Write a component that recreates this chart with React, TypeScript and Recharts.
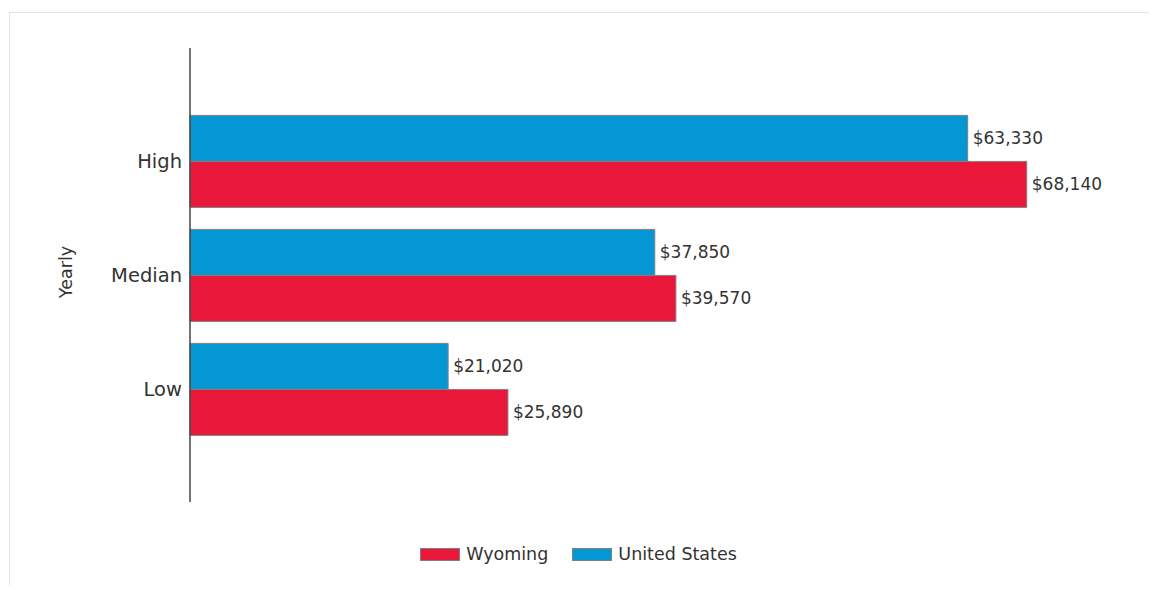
import React from "react";
import { BarChart, Bar, XAxis, YAxis, Legend, LabelList } from "recharts";

const categories = ["High", "Median", "Low"];
const unitedStates = [63330, 37850, 21020];
const wyoming = [68140, 39570, 25890];
const legendItems = [
  { name: "Wyoming", color: "#e9173a" },
  { name: "United States", color: "#0596d4" },
];

const data = categories.map((c, i) => ({ name: c, us: unitedStates[i], wy: wyoming[i] }));

const FONT = "'DejaVu Sans', Verdana, sans-serif";

const money = (v: any) => "$" + Number(v).toLocaleString("en-US");

function YearlyLabel({ viewBox }: any) {
  const x = viewBox.x - 44;
  const y = viewBox.y + viewBox.height / 2 - 3;
  return (
    <text x={x} y={y} transform={`rotate(-90, ${x}, ${y})`} textAnchor="middle"
      dominantBaseline="central" fontSize={17.5} fill="#333" fontFamily={FONT}>
      Yearly
    </text>
  );
}

function LegendContent() {
  return (
    <div style={{ display: "flex", justifyContent: "center", alignItems: "center", fontFamily: FONT, fontSize: 17.5, color: "#333" }}>
      {legendItems.map((it) => (
        <div key={it.name} style={{ display: "flex", alignItems: "center", margin: "0 12px" }}>
          <span style={{ width: 38, height: 11, background: it.color, border: "1px solid #808080", marginRight: 6, display: "inline-block" }} />
          <span>{it.name}</span>
        </div>
      ))}
    </div>
  );
}

export default function App() {
  return (
    <div style={{ margin: -8, width: 1157, height: 593, position: "relative", background: "#fff", overflow: "hidden" }}>
      <div style={{ position: "absolute", left: 0, top: 0, width: 1157, height: 4, background: "#f3f3f3" }} />
      <div style={{ position: "absolute", left: 9, top: 12, width: 1200, height: 640, border: "1px solid #dbe4ec" }} />
      <div style={{ position: "absolute", left: 0, top: 0 }}>
        <BarChart
          width={1157}
          height={593}
          data={data}
          layout="vertical"
          margin={{ top: 48, right: 46, bottom: 91, left: 110 }}
          barCategoryGap="10%"
          barGap={0}
        >
          <XAxis type="number" domain={[0, 75000]} hide />
          <YAxis
            type="category"
            dataKey="name"
            width={80}
            padding={{ top: 56, bottom: 56 }}
            tickLine={false}
            axisLine={{ stroke: "#444", strokeWidth: 1.5 }}
            tick={{ fill: "#333", fontSize: 19.5, fontFamily: FONT }}
            label={<YearlyLabel />}
          />
          <Legend verticalAlign="middle" align="center" wrapperStyle={{ top: 544, left: 0, width: 1157 }} content={<LegendContent />} />
          <Bar dataKey="us" name="United States" fill="#0596d4" stroke="#808080" strokeWidth={1} isAnimationActive={false}>
            <LabelList dataKey="us" position="right" offset={5} formatter={money} fill="#333" fontSize={17} fontFamily={FONT} />
          </Bar>
          <Bar dataKey="wy" name="Wyoming" fill="#e9173a" stroke="#808080" strokeWidth={1} isAnimationActive={false}>
            <LabelList dataKey="wy" position="right" offset={5} formatter={money} fill="#333" fontSize={17} fontFamily={FONT} />
          </Bar>
        </BarChart>
      </div>
    </div>
  );
}
